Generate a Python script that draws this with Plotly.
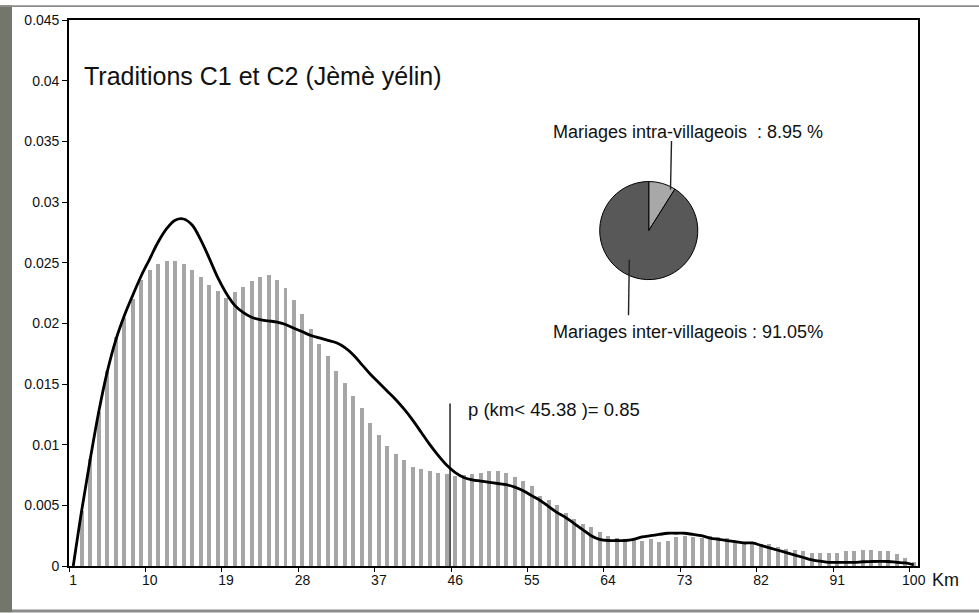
import plotly.graph_objects as go

# Distance classes (km) and observed frequencies of marriages
km = list(range(1, 101))
freq = [
    0.0, 0.0045, 0.0088, 0.0127, 0.0161, 0.0189, 0.0204, 0.0220, 0.0236, 0.0244,
    0.0249, 0.0251, 0.0251, 0.0249, 0.0244, 0.0238, 0.0232, 0.0227, 0.0221, 0.0226,
    0.0230, 0.0235, 0.0238, 0.0240, 0.0236, 0.0229, 0.0219, 0.0208, 0.0195, 0.0183,
    0.0173, 0.0161, 0.0151, 0.0140, 0.0130, 0.0118, 0.0108, 0.0099, 0.0092, 0.0087,
    0.0082, 0.0080, 0.0078, 0.0077, 0.0076, 0.0074, 0.0075, 0.0076, 0.0077, 0.0078,
    0.0078, 0.0077, 0.0073, 0.0070, 0.0066, 0.0058, 0.0054, 0.0050, 0.0044, 0.0039,
    0.0035, 0.0032, 0.0028, 0.0025, 0.0023, 0.0022, 0.0022, 0.0021, 0.0022, 0.0020,
    0.0021, 0.0024, 0.0025, 0.0024, 0.0023, 0.0025, 0.0024, 0.0023, 0.0021, 0.0020,
    0.0019, 0.00185, 0.0018, 0.0016, 0.0014, 0.0013, 0.0012, 0.0011, 0.0011, 0.0011,
    0.0011, 0.0012, 0.0012, 0.0013, 0.0013, 0.0012, 0.0012, 0.0010, 0.0007, 0.0003,
]

# Smoothed density curve
density = [
    0.0, 0.0046, 0.0088, 0.0127, 0.0160, 0.0186, 0.0206, 0.0223, 0.0239, 0.0253,
    0.0267, 0.0278, 0.0285, 0.0286, 0.0281, 0.0269, 0.0254, 0.0238, 0.0225, 0.0215,
    0.0209, 0.0205, 0.0203, 0.0202, 0.0201, 0.0199, 0.0196, 0.0193, 0.0190, 0.0188,
    0.0186, 0.0184, 0.0180, 0.0174, 0.0166, 0.0158, 0.0151, 0.0144, 0.0137, 0.0129,
    0.0120, 0.0110, 0.0100, 0.0091, 0.0083, 0.0077, 0.0073, 0.0071, 0.0070, 0.0069,
    0.0068, 0.0067, 0.0065, 0.0062, 0.0058, 0.0054, 0.0049, 0.0044, 0.0040, 0.0035,
    0.0030, 0.0025, 0.0022, 0.0021, 0.0021, 0.0021, 0.0022, 0.0024, 0.0025, 0.0026,
    0.0027, 0.0027, 0.0027, 0.0026, 0.0025, 0.0023, 0.0022, 0.0021, 0.0020, 0.0019,
    0.0019, 0.0017, 0.0015, 0.0013, 0.0011, 0.0009, 0.0007, 0.0005, 0.0004, 0.0003,
    0.0003, 0.0003, 0.0003, 0.00035, 0.00037, 0.00038, 0.00037, 0.0003, 0.00025, 0.0001,
]

x_tick_labels = ["1", "10", "19", "28", "37", "46", "55", "64", "73", "82", "91", "100"]
y_tick_vals = [0, 0.005, 0.01, 0.015, 0.02, 0.025, 0.03, 0.035, 0.04, 0.045]
y_tick_text = ["0", "0.005", "0.01", "0.015", "0.02", "0.025", "0.03", "0.035", "0.04", "0.045"]

# Share of marriages inside / between villages
pie_labels = ["Mariages intra-villageois", "Mariages inter-villageois"]
pie_values = [8.95, 91.05]

# Quantile marker
threshold_km = 45.38
threshold_p = 0.85

FONT = "Liberation Sans, Arial, sans-serif"
W, H = 979, 613
ML, MR, MT, MB = 69, 61, 15, 47
PW, PH = W - ML - MR, H - MT - MB


def px(xp):
    return (xp - ML) / PW


def py(yp):
    return (H - MB - yp) / PH


fig = go.Figure()

fig.add_trace(go.Bar(
    x=km, y=freq, width=0.47,
    marker=dict(color="#a6a6a6", line=dict(width=0)),
    hoverinfo="skip", showlegend=False,
))

fig.add_trace(go.Scatter(
    x=km, y=density, mode="lines",
    line=dict(color="#000000", width=2.8, shape="spline", smoothing=1.0),
    hoverinfo="skip", showlegend=False,
))

fig.add_trace(go.Pie(
    labels=pie_labels, values=pie_values,
    sort=False, direction="clockwise", rotation=0,
    marker=dict(colors=["#a8a8a8", "#585858"], line=dict(color="#000000", width=1)),
    textinfo="none", hoverinfo="skip", showlegend=False,
    domain=dict(x=[px(599), px(698.5)], y=[py(277), py(178)]),
))

label_ticks = [1 + 9 * i for i in range(len(x_tick_labels))]
boundary_ticks = [0.5 + 9 * i for i in range(len(x_tick_labels))]

fig.update_layout(
    width=W, height=H,
    margin=dict(l=ML, r=MR, t=MT, b=MB),
    paper_bgcolor="#ffffff", plot_bgcolor="#ffffff",
    font=dict(family=FONT, color="#111111", size=14),
    bargap=0,
    xaxis=dict(
        range=[0.5, 100.5], tickvals=label_ticks, ticktext=x_tick_labels,
        ticks="", showgrid=False, zeroline=False,
        showline=True, linecolor="#000000", linewidth=1.6, mirror=True,
        tickfont=dict(size=14, family=FONT, color="#111111"),
    ),
    xaxis2=dict(
        range=[0.5, 100.5], overlaying="x", anchor="y", side="bottom",
        tickvals=boundary_ticks, showticklabels=False,
        ticks="outside", ticklen=5, tickcolor="#000000", tickwidth=1.2,
        showgrid=False, zeroline=False, showline=False,
    ),
    yaxis=dict(
        range=[0, 0.045], tickvals=y_tick_vals, ticktext=y_tick_text,
        ticks="outside", ticklen=5, tickcolor="#000000", tickwidth=1.2,
        showgrid=False, zeroline=False,
        showline=True, linecolor="#000000", linewidth=1.6, mirror=True,
        tickfont=dict(size=14, family=FONT, color="#111111"),
    ),
)

# invisible trace so the tick-mark axis is drawn
fig.add_trace(go.Scatter(x=[1], y=[0], xaxis="x2", mode="markers",
                         marker=dict(opacity=0), hoverinfo="skip", showlegend=False))

shapes = [
    # window frame around the chart panel
    dict(type="rect", xref="paper", yref="paper", x0=px(0), x1=px(12), y0=py(H), y1=py(0),
         fillcolor="#73766a", line=dict(width=0), layer="below"),
    dict(type="rect", xref="paper", yref="paper", x0=px(0), x1=px(W), y0=py(2), y1=py(0),
         fillcolor="#8c8c8c", line=dict(width=0), layer="below"),
    dict(type="rect", xref="paper", yref="paper", x0=px(12), x1=px(W), y0=py(H), y1=py(610),
         fillcolor="#8c8c8c", line=dict(width=0), layer="below"),
    # quantile line
    dict(type="line", xref="x", yref="paper", x0=threshold_km, x1=threshold_km,
         y0=0, y1=py(402), line=dict(color="#000000", width=1.3)),
    # pie leader lines
    dict(type="line", xref="paper", yref="paper", x0=px(671.5), x1=px(670.5),
         y0=py(137), y1=py(186), line=dict(color="#222222", width=1.4)),
    dict(type="line", xref="paper", yref="paper", x0=px(629.3), x1=px(628.5),
         y0=py(257), y1=py(313), line=dict(color="#222222", width=1.4)),
]
fig.update_layout(shapes=shapes)

annotations = [
    dict(text="Traditions C1 et C2 (Jèmè yélin)", xref="paper", yref="paper",
         x=px(82), y=py(72), xanchor="left", yanchor="middle", showarrow=False,
         font=dict(size=25, family=FONT, color="#111111")),
    dict(text=f"{pie_labels[0]}&nbsp; : {pie_values[0]} %", xref="paper", yref="paper",
         x=px(551), y=py(128), xanchor="left", yanchor="middle", showarrow=False,
         font=dict(size=18, family=FONT, color="#111111")),
    dict(text=f"{pie_labels[1]} : {pie_values[1]}%", xref="paper", yref="paper",
         x=px(551), y=py(330), xanchor="left", yanchor="middle", showarrow=False,
         font=dict(size=18, family=FONT, color="#111111")),
    dict(text=f"p (km< {threshold_km} )= {threshold_p}", xref="x", yref="paper",
         x=threshold_km, y=py(408), xanchor="left", yanchor="middle", xshift=16,
         showarrow=False, font=dict(size=18.5, family=FONT, color="#111111")),
    dict(text="Km", xref="paper", yref="paper",
         x=px(930), y=py(580), xanchor="left", yanchor="middle", showarrow=False,
         font=dict(size=18, family=FONT, color="#111111")),
]
fig.update_layout(annotations=annotations)

fig.write_html("out.html")
